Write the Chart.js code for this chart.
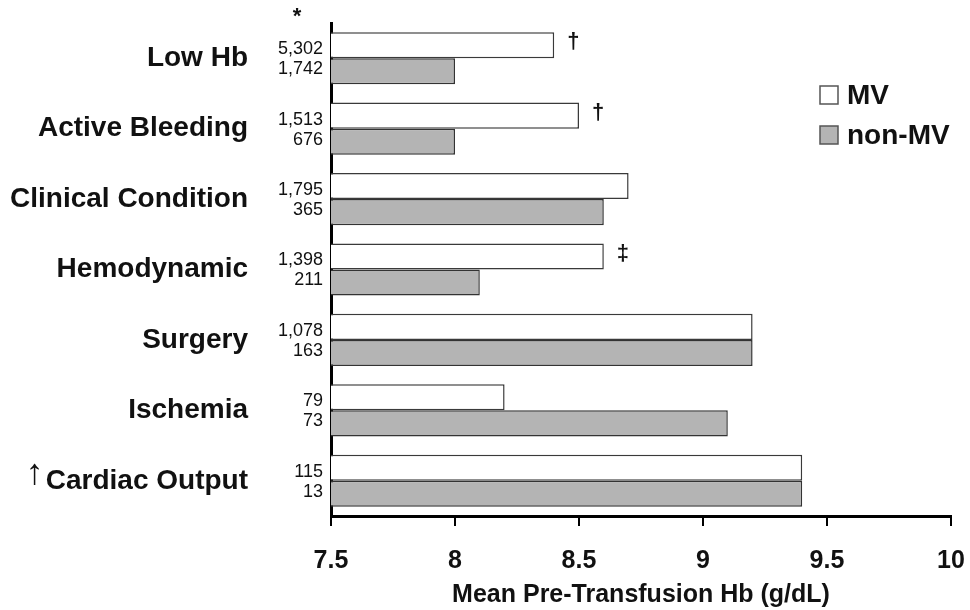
<!DOCTYPE html>
<html>
<head>
<meta charset="utf-8">
<script src="https://cdn.jsdelivr.net/npm/chart.js"></script>
<style>
  body { margin: 0; background: #fff; }
  canvas { display: block; }
</style>
</head>
<body>
<canvas id="hbChart" width="970" height="610"></canvas>
<script>
// categories and values
const categories = ['Low Hb', 'Active Bleeding', 'Clinical Condition', 'Hemodynamic', 'Surgery', 'Ischemia', '\u2191 Cardiac Output'];
const mvHb = [8.4, 8.5, 8.7, 8.6, 9.2, 8.2, 9.4];
const nonMvHb = [8.0, 8.0, 8.6, 8.1, 9.2, 9.1, 9.4];
const mvN = [5302, 1513, 1795, 1398, 1078, 79, 115];
const nonMvN = [1742, 676, 365, 211, 163, 73, 13];
const mvMarks = ['\u2020', '\u2020', '', '\u2021', '', '', ''];
const xTicks = [7.5, 8, 8.5, 9, 9.5, 10];

const FONT = "'Liberation Sans', Arial, Helvetica, sans-serif";
const ARROW = '\u2191';
const LABEL_PAD = 83;
const LABEL_SIZE = 28;

// counts next to the axis, significance marks, asterisk, arrow and legend
const annotate = {
  id: 'annotate',
  afterDatasetsDraw(chart) {
    const ctx = chart.ctx;
    const area = chart.chartArea;
    const mvMeta = chart.getDatasetMeta(0);
    const nonMeta = chart.getDatasetMeta(1);
    ctx.save();
    ctx.fillStyle = '#111';
    ctx.textBaseline = 'middle';

    ctx.font = '18px ' + FONT;
    ctx.textAlign = 'right';
    categories.forEach((c, i) => {
      const a = mvMeta.data[i], b = nonMeta.data[i];
      ctx.fillText(mvN[i].toLocaleString('en-US'), area.left - 8, a.y + 4);
      ctx.fillText(nonMvN[i].toLocaleString('en-US'), area.left - 8, b.y - 2);
    });

    ctx.font = 'bold 22px ' + FONT;
    ctx.textAlign = 'left';
    categories.forEach((c, i) => {
      if (!mvMarks[i]) return;
      const a = mvMeta.data[i];
      ctx.fillText(mvMarks[i], a.x + 13, a.y - 3);
    });

    ctx.font = 'bold 22px ' + FONT;
    ctx.textAlign = 'center';
    ctx.fillText('*', area.left - 34, area.top - 6);

    // the arrow in front of a label is drawn taller than the label text
    const yScale = chart.scales.y;
    categories.forEach((c, i) => {
      if (!c.startsWith(ARROW)) return;
      const rest = c.slice(ARROW.length).trim();
      ctx.font = 'bold ' + LABEL_SIZE + 'px ' + FONT;
      const w = ctx.measureText(rest).width;
      const y = yScale.getPixelForTick(i);
      ctx.font = '36px ' + FONT;
      ctx.textAlign = 'right';
      ctx.fillText(ARROW, area.left - LABEL_PAD - w - 2, y - 7);
    });

    // legend
    const lx = 820, ly = [95, 135];
    chart.data.datasets.forEach((ds, k) => {
      ctx.fillStyle = ds.backgroundColor;
      ctx.fillRect(lx, ly[k] - 9, 18, 18);
      ctx.strokeStyle = '#555';
      ctx.lineWidth = 1.5;
      ctx.strokeRect(lx, ly[k] - 9, 18, 18);
      ctx.fillStyle = '#111';
      ctx.font = 'bold 28px ' + FONT;
      ctx.textAlign = 'left';
      ctx.fillText(ds.label, lx + 27, ly[k] + 1);
    });
    ctx.restore();
  }
};

const ctx = document.getElementById('hbChart').getContext('2d');
new Chart(ctx, {
  type: 'bar',
  data: {
    labels: categories,
    datasets: [{
      label: 'MV',
      data: mvHb,
      backgroundColor: '#ffffff',
      borderColor: '#3a3a3a',
      borderWidth: 1.5,
      borderSkipped: 'start'
    }, {
      label: 'non-MV',
      data: nonMvHb,
      backgroundColor: '#b4b4b4',
      borderColor: '#333333',
      borderWidth: 1.5,
      borderSkipped: 'start'
    }]
  },
  options: {
    indexAxis: 'y',
    responsive: false,
    animation: false,
    datasets: {
      bar: { barPercentage: 1, categoryPercentage: 0.74 }
    },
    layout: { padding: { left: 0, top: 23, right: 19, bottom: 0 } },
    plugins: {
      legend: { display: false },
      tooltip: { enabled: false }
    },
    scales: {
      x: {
        type: 'linear',
        min: 7.5,
        max: 10,
        afterBuildTicks: scale => { scale.ticks = xTicks.map(v => ({ value: v })); },
        afterFit: scale => {
          scale.height = 94;
          scale.paddingLeft = 0;
          scale.paddingRight = 0;
        },
        border: { display: true, color: '#000', width: 3 },
        grid: { display: true, drawOnChartArea: false, drawTicks: true, tickLength: 10, color: '#000', lineWidth: 2 },
        ticks: {
          color: '#111',
          padding: 20,
          font: { family: FONT, size: 25, weight: 'bold' },
          callback: v => String(v)
        },
        title: {
          display: true,
          text: 'Mean Pre-Transfusion Hb (g/dL)',
          color: '#111',
          font: { family: FONT, size: 25, weight: 'bold' },
          padding: { top: 1, bottom: 0 }
        }
      },
      y: {
        type: 'category',
        offset: true,
        afterFit: scale => {
          scale.width = 331;
          scale.paddingTop = 0;
          scale.paddingBottom = 0;
        },
        border: { display: true, color: '#000', width: 3 },
        grid: { display: false, drawTicks: false },
        ticks: {
          color: '#111',
          padding: LABEL_PAD,
          font: { family: FONT, size: LABEL_SIZE, weight: 'bold' },
          callback: function (v) {
            const l = this.getLabelForValue(v);
            return l.startsWith(ARROW) ? l.slice(ARROW.length).trim() : l;
          }
        }
      }
    }
  },
  plugins: [annotate]
});
</script>
</body>
</html>
